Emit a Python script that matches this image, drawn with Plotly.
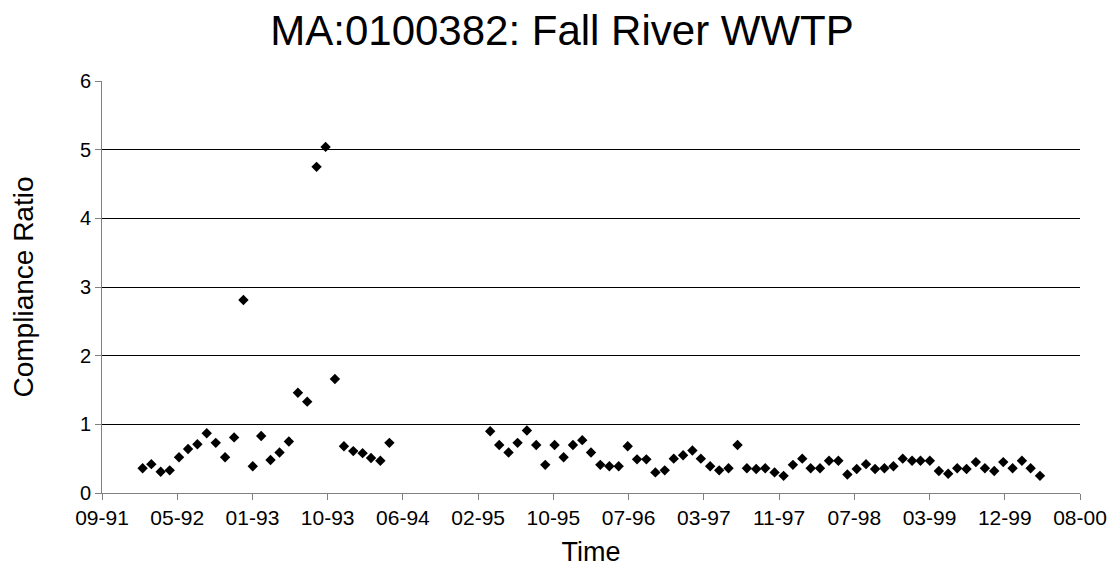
import plotly.graph_objects as go

# Monthly observation dates (first of month)
months_a = ["1992-02", "1992-03", "1992-04", "1992-05", "1992-06", "1992-07", "1992-08",
            "1992-09", "1992-10", "1992-11", "1992-12", "1993-01", "1993-02", "1993-03",
            "1993-04", "1993-05", "1993-06", "1993-07", "1993-08", "1993-09", "1993-10",
            "1993-11", "1993-12", "1994-01", "1994-02", "1994-03", "1994-04", "1994-05"]
values_a = [0.36, 0.42, 0.31, 0.33, 0.52, 0.64, 0.71, 0.87, 0.73, 0.52, 0.81, 2.81, 0.39, 0.83,
            0.48, 0.59, 0.75, 1.46, 1.33, 4.75, 5.04, 1.66, 0.68, 0.61, 0.58, 0.51, 0.47, 0.73]

months_b = ["1995-04", "1995-05", "1995-06", "1995-07", "1995-08", "1995-09", "1995-10",
            "1995-11", "1995-12", "1996-01", "1996-02", "1996-03", "1996-04", "1996-05",
            "1996-06", "1996-07", "1996-08", "1996-09", "1996-10", "1996-11", "1996-12",
            "1997-01", "1997-02", "1997-03", "1997-04", "1997-05", "1997-06", "1997-07",
            "1997-08", "1997-09", "1997-10", "1997-11", "1997-12", "1998-01", "1998-02",
            "1998-03", "1998-04", "1998-05", "1998-06", "1998-07", "1998-08", "1998-09",
            "1998-10", "1998-11", "1998-12", "1999-01", "1999-02", "1999-03", "1999-04",
            "1999-05", "1999-06", "1999-07", "1999-08", "1999-09", "1999-10", "1999-11",
            "1999-12", "2000-01", "2000-02", "2000-03", "2000-04"]
values_b = [0.90, 0.70, 0.59, 0.73, 0.91, 0.70, 0.41, 0.70, 0.52, 0.70, 0.77, 0.59, 0.41, 0.39,
            0.39, 0.68, 0.49, 0.49, 0.30, 0.33, 0.50, 0.55, 0.62, 0.50, 0.39, 0.33, 0.36, 0.70,
            0.36, 0.35, 0.36, 0.30, 0.25, 0.41, 0.50, 0.36, 0.36, 0.47, 0.47, 0.27, 0.35, 0.42,
            0.35, 0.36, 0.39, 0.50, 0.47, 0.47, 0.47, 0.32, 0.28, 0.36, 0.35, 0.45, 0.36, 0.32,
            0.45, 0.36, 0.47, 0.36, 0.25]

dates = [m + "-01" for m in months_a + months_b]
values = values_a + values_b

FONT = "Liberation Sans, Arial, sans-serif"

# page body has an 8px default margin; figure sized to fit the 1120x575 window
W, H = 1104, 559

fig = go.Figure(go.Scatter(
    x=dates, y=values, mode="markers",
    marker=dict(symbol="diamond", size=8, color="black"),
    showlegend=False,
))

fig.update_layout(
    width=W, height=H,
    margin=dict(l=94, r=32, t=73, b=74),
    paper_bgcolor="white", plot_bgcolor="white",
    font=dict(family=FONT, color="black", size=20),
    title=dict(text="MA:0100382: Fall River WWTP", x=(562 - 8) / W, xanchor="center",
               y=1 - 22 / H, yanchor="middle",
               font=dict(family=FONT, size=42, color="black")),
)

fig.update_xaxes(
    type="date",
    range=["1991-09-19", "2000-08-12"],
    tick0="1991-09-19", dtick=250 * 86400000, tickformat="%m-%y",
    ticks="outside", ticklen=6, tickcolor="#808080", tickwidth=1,
    showline=True, linecolor="#808080", linewidth=1,
    showgrid=False, zeroline=False, automargin=False,
    tickfont=dict(size=21),
    title=dict(text="Time", font=dict(size=27), standoff=15),
)

fig.update_yaxes(
    range=[0, 6], dtick=1, tick0=0,
    ticks="outside", ticklen=6, tickcolor="#808080", tickwidth=1,
    showline=True, linecolor="#808080", linewidth=1,
    showgrid=True, gridcolor="black", gridwidth=1,
    zeroline=False, automargin=False,
    tickfont=dict(size=20),
    title=dict(text="Compliance Ratio", font=dict(size=28), standoff=40),
)

fig.write_html("out.html")
